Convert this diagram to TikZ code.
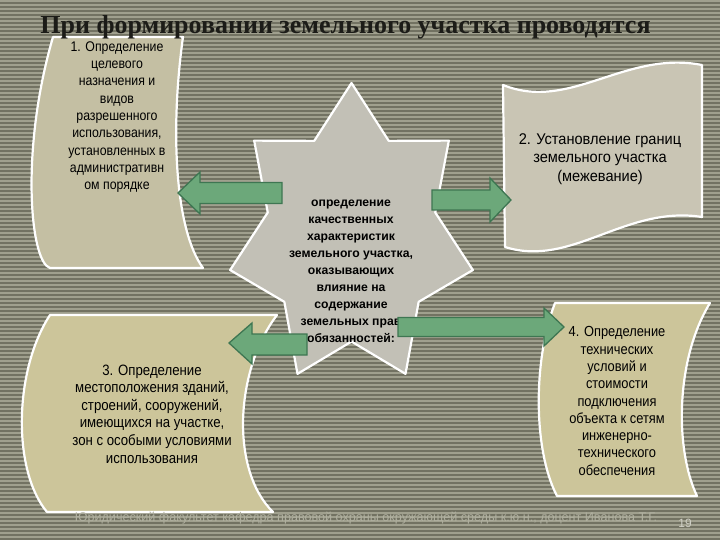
\documentclass[tikz,border=0pt]{standalone}
\usepackage{fontspec}
\setmainfont{Liberation Serif}
\newfontfamily\boxfont[FakeStretch=0.88]{Liberation Sans}
\newfontfamily\boxfontB[FakeStretch=0.94]{Liberation Sans}
\newfontfamily\starfont{Liberation Sans}
\definecolor{bgdark}{RGB}{114,114,98}
\definecolor{bglight}{RGB}{160,160,142}
\definecolor{boxA}{RGB}{196,191,163}
\definecolor{boxB}{RGB}{201,197,180}
\definecolor{boxC}{RGB}{204,197,154}
\definecolor{starc}{RGB}{194,192,182}
\definecolor{arrowfill}{RGB}{108,168,122}
\definecolor{arrowline}{RGB}{62,118,82}
\definecolor{foot}{RGB}{176,176,160}
\definecolor{titlec}{RGB}{28,28,24}
\begin{document}
\begin{tikzpicture}[x=1pt,y=-1pt,
  scroll/.style={draw=white,line width=2.2pt,line join=round},
  txt/.style={align=center,inner sep=0pt,font=\boxfont\fontsize{14}{17.3}\selectfont,text=black},
  startxt/.style={align=center,inner sep=0pt,font=\starfont\bfseries\fontsize{12.2}{17}\selectfont,text=black},
  blockarrow/.style={draw=arrowline,fill=arrowfill,line width=1.3pt,line join=miter}
]
\useasboundingbox (0,0) rectangle (720,540);
% background
\fill[bgdark] (0,0) rectangle (720,540);
\foreach \i in {0,...,134} \fill[bglight] (0,{\i*4}) rectangle (720,{\i*4+2});
% box 1
\path[scroll,fill=boxA] (53,37) -- (183,37) .. controls (170,130) and (175,230) .. (203,268) -- (50,268) .. controls (30,262) and (20,150) .. (53,37) -- cycle;
% box 2
\path[scroll,fill=boxB] (503,85) .. controls (570,112) and (625,50) .. (702,65) -- (702,217) .. controls (625,205) and (572,268) .. (505,247) -- cycle;
% box 3
\path[scroll,fill=boxC] (50,315) -- (277,315) .. controls (235,370) and (230,470) .. (273,512) -- (47,512) .. controls (12,470) and (14,370) .. (50,315) -- cycle;
% box 4
\path[scroll,fill=boxC] (555,303) -- (710,303) .. controls (675,360) and (675,450) .. (697,496) -- (557,496) .. controls (533,450) and (533,360) .. (555,303) -- cycle;
% star
\path[scroll,fill=starc] (351.5,83) \foreach \k/\q in {1/0.69,2/1,3/0.69,4/1,5/0.69,6/1,7/0.69,8/1,9/0.69,10/1,11/0.69,12/1,13/0.69} { -- ({351.5+124.5*\q*cos(90-\k*25.7143)},{236-153*\q*sin(90-\k*25.7143)}) } -- cycle;
% texts
\node[txt] (t1) at (117,117) {1. Определение\\целевого\\назначения и\\видов\\разрешенного\\использования,\\установленных в\\административн\\ом порядке};
\node[txt,font=\boxfontB\fontsize{15.5}{18.5}\selectfont] (t2) at (600,159) {2. Установление границ\\земельного участка\\(межевание)};
\node[txt,font=\boxfont\fontsize{15}{17.6}\selectfont] (t3) at (152,414) {3. Определение\\местоположения зданий,\\строений, сооружений,\\имеющихся на участке,\\зон с особыми условиями\\использования};
\node[txt,font=\boxfont\fontsize{14.6}{17.3}\selectfont] (t4) at (617,401) {4. Определение\\технических\\условий и\\стоимости\\подключения\\объекта к сетям\\инженерно-\\технического\\обеспечения};
\node[startxt] (t0) at (351,271) {определение\\качественных\\характеристик\\земельного участка,\\оказывающих\\влияние на\\содержание\\земельных прав\\обязанностей:};
% arrows
\path[blockarrow] (282,182.5) -- (200,182.5) -- (200,172) -- (178,193) -- (200,214) -- (200,203.5) -- (282,203.5) -- cycle;
\path[blockarrow] (432,190) -- (490,190) -- (490,178) -- (511,200) -- (490,222) -- (490,210) -- (432,210) -- cycle;
\path[blockarrow] (307,334) -- (252,334) -- (252,323) -- (229,343) -- (252,364) -- (252,355) -- (307,355) -- cycle;
\path[blockarrow] (398,317.5) -- (544,317.5) -- (544,308) -- (564,327) -- (544,346) -- (544,336.5) -- (398,336.5) -- cycle;
% title
\node[anchor=base,inner sep=0pt,font=\bfseries\fontsize{26}{28}\selectfont,text=titlec] (title) at (345.5,34) {При формировании земельного участка проводятся};
% footer
\node[inner sep=0pt,font=\starfont\fontsize{12.6}{13}\selectfont,text=foot] (foot) at (366,518) {Юридический факультет кафедра правовой охраны окружающей среды к.ю.н., доцент Иванова Т.Г.};
\node[inner sep=0pt,font=\starfont\fontsize{12}{12}\selectfont,text=foot!60!white] (pg) at (685,523) {19};
\end{tikzpicture}
\end{document}
